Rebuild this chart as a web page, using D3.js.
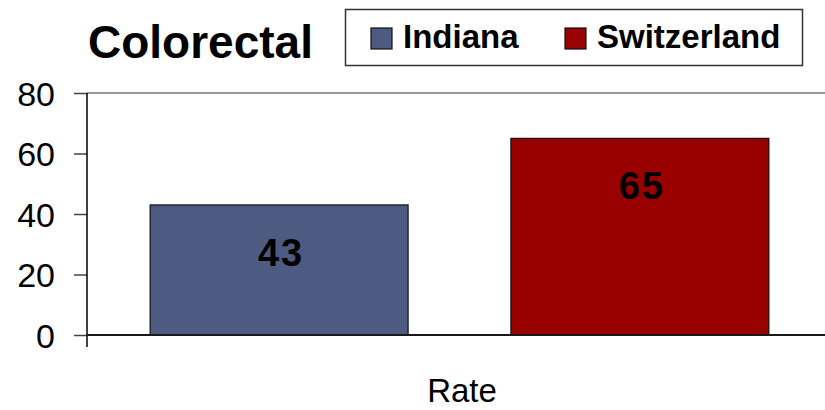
<!DOCTYPE html>
<html lang="en">
  <head>
    <meta charset="UTF-8" />
    <title>Colorectal</title>
    <style>
      body { margin: 0; background: #fff; }
      text { font-family: "Liberation Sans", Arial, sans-serif; fill: #000; }
      .tick text { font-size: 34px; }
    </style>
  </head>
  <body>
    <div id="chart"></div>
    <script src="https://cdn.jsdelivr.net/npm/d3@7"></script>
    <script>
      /* global d3 */
      const series = ["Indiana", "Switzerland"];
      const values = [43, 65];
      const colors = ["#4d5b83", "#990000"];
      const yTicks = [0, 20, 40, 60, 80];
      const category = "Rate";

      let width = 825,
        height = 410;

      let svg = d3
        .select("#chart")
        .append("svg")
        .attr("width", width)
        .attr("height", height);

      let y = d3.scaleLinear().domain([0, 80]).range([335, 93]);

      let x = d3
        .scaleBand()
        .domain(series)
        .range([87, 832])
        .paddingInner(0.285)
        .paddingOuter(0.175);

      // top gridline
      svg
        .append("line")
        .attr("x1", 87)
        .attr("x2", width)
        .attr("y1", y(80))
        .attr("y2", y(80))
        .attr("stroke", "#777")
        .attr("stroke-width", 1.5);

      svg
        .selectAll(".bar")
        .data(values)
        .enter()
        .append("rect")
        .attr("class", "bar")
        .attr("x", (d, i) => x(series[i]))
        .attr("y", (d) => y(d))
        .attr("width", x.bandwidth())
        .attr("height", (d) => y(0) - y(d))
        .attr("fill", (d, i) => colors[i])
        .attr("stroke", "#111")
        .attr("stroke-width", 1.2);

      svg
        .selectAll(".val")
        .data(values)
        .enter()
        .append("text")
        .attr("class", "val")
        .attr("x", (d, i) => x(series[i]) + x.bandwidth() / 2 + 2)
        .attr("y", (d) => y(d) + 61)
        .attr("text-anchor", "middle")
        .style("font-size", "38px")
        .style("font-weight", "bold")
        .style("letter-spacing", "2px")
        .text((d) => d);

      // y axis
      let yAxis = svg
        .append("g")
        .attr("transform", "translate(87,0)")
        .call(d3.axisLeft(y).tickValues(yTicks).tickSize(13).tickPadding(19));
      yAxis.select(".domain").remove();
      yAxis.selectAll(".tick line").attr("stroke", "#444").attr("stroke-width", 1.5);
      yAxis.selectAll(".tick text").attr("dy", "0.36em");
      yAxis
        .append("line")
        .attr("x1", 0)
        .attr("x2", 0)
        .attr("y1", y(80))
        .attr("y2", 347)
        .attr("stroke", "#000")
        .attr("stroke-width", 1.5);

      // baseline
      svg
        .append("line")
        .attr("x1", 87)
        .attr("x2", width)
        .attr("y1", y(0))
        .attr("y2", y(0))
        .attr("stroke", "#1a1a1a")
        .attr("stroke-width", 2);

      svg
        .append("text")
        .attr("x", 462)
        .attr("y", 402)
        .attr("text-anchor", "middle")
        .style("font-size", "33px")
        .text(category);

      svg
        .append("text")
        .attr("x", 88)
        .attr("y", 58)
        .style("font-size", "46px")
        .style("font-weight", "bold")
        .text("Colorectal");

      // legend
      let legend = svg.append("g");
      legend
        .append("rect")
        .attr("x", 345.5)
        .attr("y", 9.5)
        .attr("width", 457)
        .attr("height", 56)
        .attr("fill", "#fff")
        .attr("stroke", "#333")
        .attr("stroke-width", 1.5);

      let legX = [371, 565];
      let item = legend
        .selectAll(".item")
        .data(series)
        .enter()
        .append("g")
        .attr("transform", (d, i) => "translate(" + legX[i] + ",0)");
      item
        .append("rect")
        .attr("x", 0)
        .attr("y", 28)
        .attr("width", 21)
        .attr("height", 21)
        .attr("fill", (d, i) => colors[i])
        .attr("stroke", "#111")
        .attr("stroke-width", 1.2);
      item
        .append("text")
        .attr("x", 32)
        .attr("y", 48)
        .style("font-size", "33px")
        .style("font-weight", "bold")
        .text((d) => d);
    </script>
  </body>
</html>
